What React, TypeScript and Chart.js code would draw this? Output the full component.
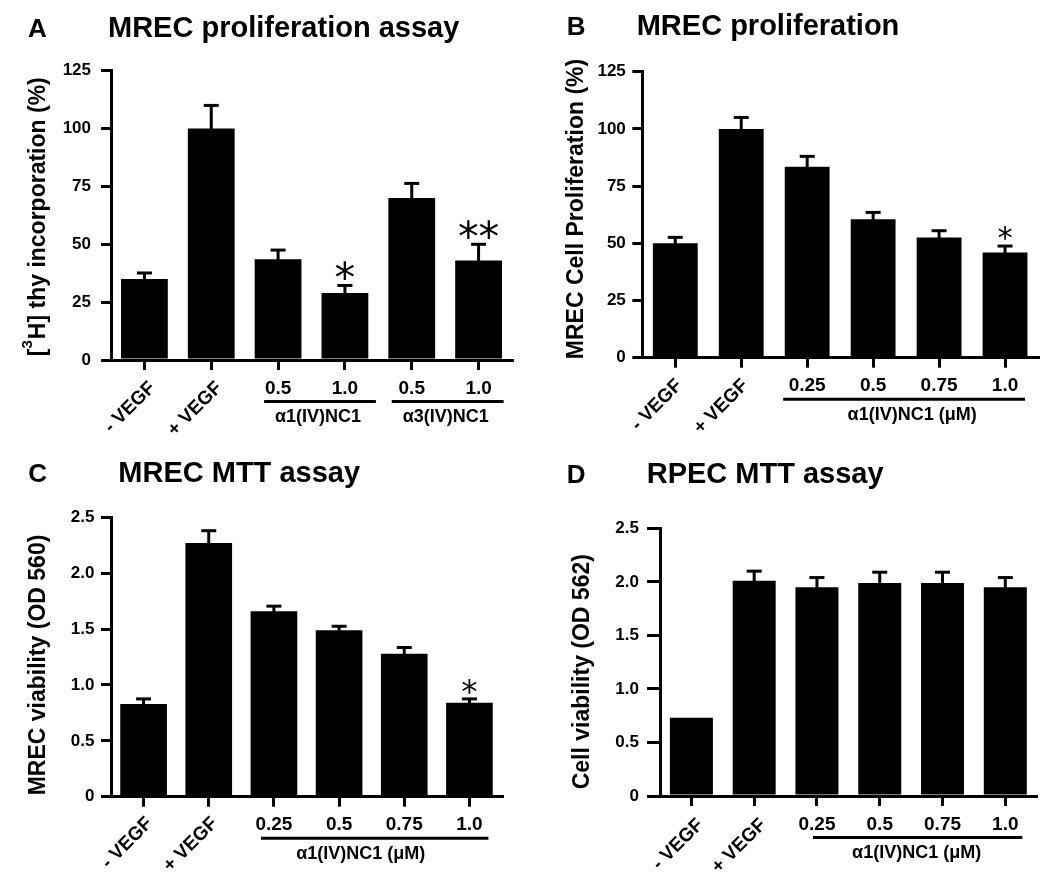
import React, { useEffect, useRef } from 'react';
import { Chart, registerables } from 'chart.js';

Chart.register(...registerables);

const SANS = '"Liberation Sans", Arial, Helvetica, sans-serif';

// ---------- data ----------
const catsA = ['- VEGF', '+ VEGF', '0.5', '1.0', '0.5', '1.0'];
const valsA = [35, 100, 43.5, 29, 70, 43];
const errsA = [2.6, 10, 4, 3.2, 6.3, 7];
const starsA = ['', '', '', '*', '', '**'];
const yTicksA = [0, 25, 50, 75, 100, 125];
const groupsA = [
  { label: 'α1(IV)NC1', from: 2, to: 3 },
  { label: 'α3(IV)NC1', from: 4, to: 5 },
];

const catsB = ['- VEGF', '+ VEGF', '0.25', '0.5', '0.75', '1.0'];
const valsB = [50, 100, 83.5, 60.5, 52.5, 46];
const errsB = [2.6, 5, 4.5, 3, 3, 2.8];
const starsB = ['', '', '', '', '', '*'];
const yTicksB = [0, 25, 50, 75, 100, 125];
const groupsB = [{ label: 'α1(IV)NC1 (μM)', from: 2, to: 5 }];

const catsC = ['- VEGF', '+ VEGF', '0.25', '0.5', '0.75', '1.0'];
const valsC = [0.83, 2.27, 1.66, 1.49, 1.28, 0.84];
const errsC = [0.045, 0.11, 0.045, 0.035, 0.055, 0.035];
const starsC = ['', '', '', '', '', '*'];
const yTicksC = [0, 0.5, 1, 1.5, 2, 2.5];
const groupsC = [{ label: 'α1(IV)NC1 (μM)', from: 2, to: 5 }];

const catsD = ['- VEGF', '+ VEGF', '0.25', '0.5', '0.75', '1.0'];
const valsD = [0.73, 2.01, 1.95, 1.99, 1.99, 1.95];
const errsD = [0, 0.09, 0.09, 0.1, 0.1, 0.09];
const starsD = ['', '', '', '', '', ''];
const yTicksD = [0, 0.5, 1, 1.5, 2, 2.5];
const groupsD = [{ label: 'α1(IV)NC1 (μM)', from: 2, to: 5 }];

const fmtInt = (v: number) => String(v);
const fmtDec = (v: number) => (v === 0 ? '0' : Number(v).toFixed(1));

// ---------- layout / style ----------
type Panel = any;

const panels: Panel[] = [
  {
    key: 'A',
    data: { cats: catsA, vals: valsA, errs: errsA, stars: starsA, yTicks: yTicksA, groups: groupsA, fmt: fmtInt },
    x: 0, y: 0, w: 525, h: 440,
    area: { l: 111, r: 512, t: 70.7, b: 360 },
    letter: 'A', title: 'MREC proliferation assay',
    letterPos: [28, 36.5], titlePos: [108, 36.5],
    yTitle: [{ t: '[' }, { t: '3', sup: true }, { t: 'H] thy incorporation (%)' }],
    yTitlePos: [39, 216.7],
    tickLen: 10, tickPad: 10, barPct: 0.7,
    rotDx: 8, rotDy: 25,
    groupLines: [[-14, 31], [-20, 25]], groupLabelDx: [-2, -2],
    starH: 19, starGap: 4,
  },
  {
    key: 'B',
    data: { cats: catsB, vals: valsB, errs: errsB, stars: starsB, yTicks: yTicksB, groups: groupsB, fmt: fmtInt },
    x: 525, y: 0, w: 525, h: 440,
    area: { l: 117.3, r: 513, t: 71.7, b: 357.7 },
    letter: 'B', title: 'MREC proliferation',
    letterPos: [41.7, 35], titlePos: [111.7, 35],
    yTitle: [{ t: 'MREC Cell Proliferation (%)' }],
    yTitlePos: [51.8, 209],
    tickLen: 10, tickPad: 6.5, barPct: 0.68,
    rotDx: 4, rotDy: 25,
    groupLines: [[-24, 20]], groupLabelDx: [8],
    starH: 14, starGap: 5,
  },
  {
    key: 'C',
    data: { cats: catsC, vals: valsC, errs: errsC, stars: starsC, yTicks: yTicksC, groups: groupsC, fmt: fmtDec },
    x: 0, y: 440, w: 525, h: 439,
    area: { l: 111, r: 502, t: 77.3, b: 356.7 },
    letter: 'C', title: 'MREC MTT assay',
    letterPos: [28.3, 41.7], titlePos: [118.3, 41.7],
    yTitle: [{ t: 'MREC viability (OD 560)' }],
    yTitlePos: [38.3, 225],
    tickLen: 10, tickPad: 6.5, barPct: 0.716,
    rotDx: 6, rotDy: 24,
    groupLines: [[-13, 19]], groupLabelDx: [-14],
    starH: 15, starGap: 3,
  },
  {
    key: 'D',
    data: { cats: catsD, vals: valsD, errs: errsD, stars: starsD, yTicks: yTicksD, groups: groupsD, fmt: fmtDec },
    x: 525, y: 440, w: 525, h: 439,
    area: { l: 135, r: 511.7, t: 88.3, b: 356 },
    letter: 'D', title: 'RPEC MTT assay',
    letterPos: [41.7, 43.3], titlePos: [121.7, 43.3],
    yTitle: [{ t: 'Cell viability (OD 562)' }],
    yTitlePos: [57.5, 231.7],
    tickLen: 13, tickPad: 8, barPct: 0.685,
    rotDx: 9, rotDy: 26,
    groupLines: [[-4, 17]], groupLabelDx: [-1],
    starH: 14, starGap: 5,
  },
];

function drawStar(ctx: CanvasRenderingContext2D, text: string, cx: number, bottom: number, h: number) {
  ctx.font = `100px "DejaVu Sans", ${SANS}`;
  const m = ctx.measureText(text);
  const gh = m.actualBoundingBoxAscent + m.actualBoundingBoxDescent || 40;
  const size = (100 * h) / gh;
  ctx.font = `${size}px "DejaVu Sans", ${SANS}`;
  const m2 = ctx.measureText(text);
  ctx.textAlign = 'center';
  ctx.textBaseline = 'alphabetic';
  ctx.fillText(text, cx, bottom - m2.actualBoundingBoxDescent);
}

function overlay(p: Panel) {
  const d = p.data;
  const inGroup = (i: number) => d.groups.some((g: any) => i >= g.from && i <= g.to);
  return {
    id: 'overlay' + p.key,
    afterDatasetsDraw(chart: any) {
      const ctx: CanvasRenderingContext2D = chart.ctx;
      const ys = chart.scales.y;
      const meta = chart.getDatasetMeta(0);
      ctx.save();
      ctx.strokeStyle = '#000';
      ctx.fillStyle = '#000';
      ctx.lineWidth = 3;
      d.vals.forEach((v: number, i: number) => {
        const e = d.errs[i];
        const bx = meta.data[i].x;
        const top = ys.getPixelForValue(v + e);
        if (e > 0) {
          ctx.beginPath();
          ctx.moveTo(bx, ys.getPixelForValue(v) + 2);
          ctx.lineTo(bx, top);
          ctx.stroke();
          ctx.beginPath();
          ctx.moveTo(bx - 7.5, top);
          ctx.lineTo(bx + 7.5, top);
          ctx.stroke();
        }
        if (d.stars[i]) drawStar(ctx, d.stars[i], bx, top - 1.5 - p.starGap, p.starH);
      });
      ctx.restore();
    },
    afterDraw(chart: any) {
      const ctx: CanvasRenderingContext2D = chart.ctx;
      const xs = chart.scales.x;
      const area = chart.chartArea;
      ctx.save();
      ctx.fillStyle = '#000';
      ctx.strokeStyle = '#000';
      ctx.textAlign = 'left';
      ctx.textBaseline = 'alphabetic';
      ctx.font = `bold 26px ${SANS}`;
      ctx.fillText(p.letter, p.letterPos[0], p.letterPos[1]);
      ctx.font = `bold 29px ${SANS}`;
      ctx.fillText(p.title, p.titlePos[0], p.titlePos[1]);

      // y-axis title
      ctx.save();
      ctx.translate(p.yTitlePos[0], p.yTitlePos[1]);
      ctx.rotate(-Math.PI / 2);
      ctx.textBaseline = 'middle';
      ctx.textAlign = 'left';
      const mainFont = `bold 23px ${SANS}`;
      const supFont = `bold 15px ${SANS}`;
      let total = 0;
      const widths = p.yTitle.map((part: any) => {
        ctx.font = part.sup ? supFont : mainFont;
        const w = ctx.measureText(part.t).width + (part.sup ? 1 : 0);
        total += w;
        return w;
      });
      let cx = -total / 2;
      p.yTitle.forEach((part: any, i: number) => {
        ctx.font = part.sup ? supFont : mainFont;
        ctx.fillText(part.t, cx, part.sup ? -11 : 0);
        cx += widths[i];
      });
      ctx.restore();

      // rotated category labels
      d.cats.forEach((c: string, i: number) => {
        if (inGroup(i)) return;
        const px = xs.getPixelForValue(i);
        ctx.save();
        ctx.translate(px + p.rotDx, area.bottom + p.rotDy);
        ctx.rotate(-Math.PI / 4);
        ctx.font = `bold 19px ${SANS}`;
        ctx.textAlign = 'right';
        ctx.textBaseline = 'middle';
        ctx.fillText(c, 0, 0);
        ctx.restore();
      });

      // grouped labels
      d.groups.forEach((g: any, gi: number) => {
        ctx.font = `bold 19px ${SANS}`;
        ctx.textAlign = 'center';
        ctx.textBaseline = 'middle';
        for (let i = g.from; i <= g.to; i++) {
          ctx.fillText(d.cats[i], xs.getPixelForValue(i), area.bottom + 28.5);
        }
        const x1 = xs.getPixelForValue(g.from) + p.groupLines[gi][0];
        const x2 = xs.getPixelForValue(g.to) + p.groupLines[gi][1];
        ctx.lineWidth = 3;
        ctx.beginPath();
        ctx.moveTo(x1, area.bottom + 41.5);
        ctx.lineTo(x2, area.bottom + 41.5);
        ctx.stroke();
        ctx.font = `bold 18px ${SANS}`;
        ctx.fillText(g.label, (x1 + x2) / 2 + p.groupLabelDx[gi], area.bottom + 57);
      });
      ctx.restore();
    },
  };
}

function makeConfig(p: Panel): any {
  const d = p.data;
  const axisGrid = (len: number) => ({
    display: true,
    offset: false,
    drawOnChartArea: false,
    drawTicks: true,
    tickLength: len,
    lineWidth: 3,
    color: '#000',
  });
  return {
    type: 'bar',
    data: {
      labels: d.cats,
      datasets: [
        {
          data: d.vals,
          backgroundColor: '#000',
          borderWidth: 0,
          categoryPercentage: 1,
          barPercentage: p.barPct,
        },
      ],
    },
    options: {
      responsive: false,
      animation: false,
      events: [],
      layout: { padding: { left: 0, top: p.area.t, right: p.w - p.area.r, bottom: 0 } },
      plugins: { legend: { display: false }, tooltip: { enabled: false }, title: { display: false } },
      scales: {
        x: {
          type: 'category',
          offset: true,
          grid: axisGrid(10),
          border: { display: true, color: '#000', width: 3 },
          ticks: { display: false },
          afterFit: (sc: any) => {
            sc.height = p.h - p.area.b;
          },
        },
        y: {
          type: 'linear',
          min: d.yTicks[0],
          max: d.yTicks[d.yTicks.length - 1],
          afterBuildTicks: (sc: any) => {
            sc.ticks = d.yTicks.map((v: number) => ({ value: v }));
          },
          grid: axisGrid(p.tickLen),
          border: { display: true, color: '#000', width: 3 },
          ticks: {
            color: '#000',
            padding: p.tickPad,
            font: { family: SANS, size: 17, weight: 'bold' },
            callback: (v: number) => d.fmt(v),
          },
          afterFit: (sc: any) => {
            sc.width = p.area.l;
          },
        },
      },
    },
    plugins: [overlay(p)],
  };
}

function PanelChart({ p }: { p: Panel }) {
  const ref = useRef<HTMLCanvasElement>(null);
  useEffect(() => {
    const chart = new Chart(ref.current as HTMLCanvasElement, makeConfig(p));
    return () => chart.destroy();
  }, []);
  return (
    <canvas
      ref={ref}
      width={p.w}
      height={p.h}
      style={{ position: 'absolute', left: p.x, top: p.y, width: p.w, height: p.h }}
    />
  );
}

export default function App() {
  return (
    <div style={{ position: 'absolute', left: 0, top: 0, width: 1050, height: 879, background: '#fff' }}>
      {panels.map((p) => (
        <PanelChart key={p.key} p={p} />
      ))}
    </div>
  );
}
